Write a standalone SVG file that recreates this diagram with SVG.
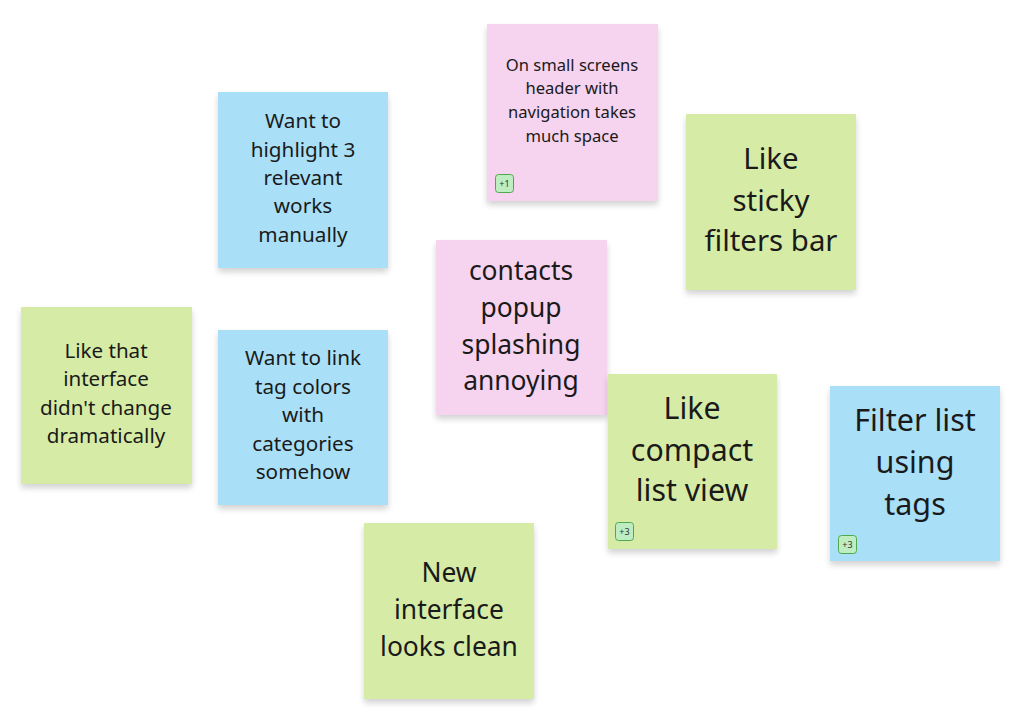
<svg xmlns="http://www.w3.org/2000/svg" width="1024" height="728" viewBox="0 0 1024 728">
<defs>
<filter id="sh" x="-10%" y="-10%" width="120%" height="125%">
<feGaussianBlur in="SourceAlpha" stdDeviation="3"/>
<feOffset dx="0" dy="4" result="b"/>
<feComponentTransfer><feFuncA type="linear" slope="0.18"/></feComponentTransfer>
<feMerge><feMergeNode/><feMergeNode in="SourceGraphic"/></feMerge>
</filter>
</defs>
<style>
.note{filter:url(#sh)}
.pink{fill:#f6d3ee}
.blue{fill:#a9e0f8}
.green{fill:#d6eca6}
text{font-family:"Noto Sans","Open Sans",sans-serif;fill:#1a1a1a;text-anchor:middle}
.badge rect{fill:#bdedc0;stroke:#4ea850;stroke-width:1}
.badge text{font-size:9px;fill:#333}
</style>
<rect width="1024" height="728" fill="#ffffff"/>
<g id="connectors"></g>

<g id="note-small-screens">
<rect class="note pink" x="487" y="24" width="171" height="177"/>
<text font-size="16.6" x="572"><tspan x="572" y="71">On small screens</tspan><tspan x="572" y="94">header with</tspan><tspan x="572" y="118">navigation takes</tspan><tspan x="572" y="142">much space</tspan></text>
<g class="badge"><rect x="495.5" y="174.5" width="18" height="18" rx="3"/><text x="504.5" y="187">+1</text></g>
</g>

<g id="note-highlight">
<rect class="note blue" x="218" y="92" width="170" height="176"/>
<text font-size="20.7"><tspan x="303" y="128">Want to</tspan><tspan x="303" y="157">highlight 3</tspan><tspan x="303" y="185">relevant</tspan><tspan x="303" y="213">works</tspan><tspan x="303" y="242">manually</tspan></text>
</g>

<g id="note-sticky-filters">
<rect class="note green" x="686" y="114" width="170" height="176"/>
<text font-size="29.4"><tspan x="771" y="169">Like</tspan><tspan x="771" y="211">sticky</tspan><tspan x="771" y="251">filters bar</tspan></text>
</g>

<g id="note-contacts-popup">
<rect class="note pink" x="436" y="240" width="171" height="175"/>
<text font-size="26.4"><tspan x="521" y="280">contacts</tspan><tspan x="521" y="317">popup</tspan><tspan x="521" y="354">splashing</tspan><tspan x="521" y="390">annoying</tspan></text>
</g>

<g id="note-interface-unchanged">
<rect class="note green" x="21" y="307" width="171" height="177"/>
<text font-size="20.6"><tspan x="106" y="358">Like that</tspan><tspan x="106" y="386">interface</tspan><tspan x="106" y="415">didn't change</tspan><tspan x="106" y="443">dramatically</tspan></text>
</g>

<g id="note-tag-colors">
<rect class="note blue" x="218" y="330" width="170" height="175"/>
<text font-size="20.7"><tspan x="303" y="365">Want to link</tspan><tspan x="303" y="394">tag colors</tspan><tspan x="303" y="422">with</tspan><tspan x="303" y="451">categories</tspan><tspan x="303" y="479">somehow</tspan></text>
</g>

<g id="note-compact-list">
<rect class="note green" x="608" y="374" width="169" height="175"/>
<text font-size="30.3"><tspan x="692" y="419">Like</tspan><tspan x="692" y="461">compact</tspan><tspan x="692" y="501">list view</tspan></text>
<g class="badge"><rect x="615.5" y="522.5" width="18" height="18" rx="3"/><text x="624.5" y="535">+3</text></g>
</g>

<g id="note-filter-tags">
<rect class="note blue" x="830" y="386" width="170" height="175"/>
<text font-size="30.5"><tspan x="915" y="431">Filter list</tspan><tspan x="915" y="473">using</tspan><tspan x="915" y="515">tags</tspan></text>
<g class="badge"><rect x="838.5" y="535.5" width="18" height="18" rx="3"/><text x="847.5" y="548">+3</text></g>
</g>

<g id="note-clean-interface">
<rect class="note green" x="364" y="523" width="170" height="176"/>
<text font-size="26.4"><tspan x="449" y="582">New</tspan><tspan x="449" y="619">interface</tspan><tspan x="449" y="656">looks clean</tspan></text>
</g>
</svg>
